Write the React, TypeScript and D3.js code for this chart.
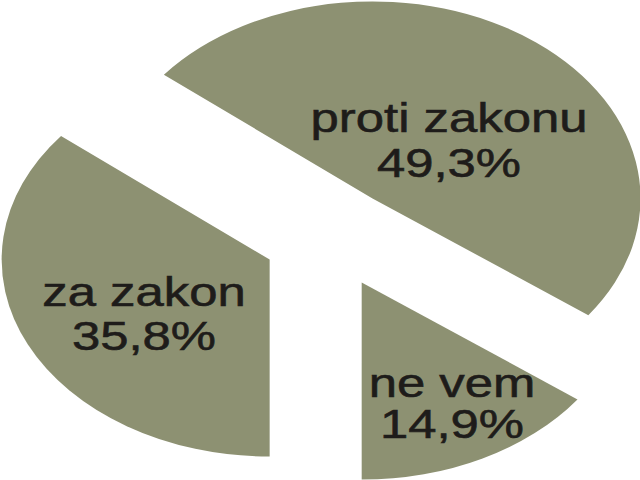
import { useEffect, useRef } from 'react';
import * as d3 from 'd3';

// answers to the survey question (percent)
const categories = ['proti zakonu', 'ne vem', 'za zakon'];
const shares = [49.3, 14.9, 35.8];
const shareLabels = ['49,3%', '14,9%', '35,8%'];

// where each two-line label sits (first baseline, gap to the second line)
const labelLayout: Record<string, { x: number; y: number; gap: number }> = {
  'proti zakonu': { x: 449, y: 132, gap: 45 },
  'ne vem': { x: 452, y: 397, gap: 41 },
  'za zakon': { x: 144, y: 306, gap: 44 },
};

const WIDTH = 640;
const HEIGHT = 480;
const FILL = '#8d9172';
const INK = '#1e1c1a';

export default function App() {
  const svgRef = useRef<SVGSVGElement>(null);

  useEffect(() => {
    if (!svgRef.current) return;
    const svg = d3.select(svgRef.current);
    svg.selectAll('*').remove();

    const cx = 331;
    const cy = 238;
    const radius = 268;
    const squash = 0.735; // pie is drawn as an ellipse
    const explode = 68;

    const data = categories.map((c, i) => ({ name: c, value: shares[i], label: shareLabels[i] }));
    const total = d3.sum(shares);

    // the split between "ne vem" and "za zakon" runs straight down
    const start = Math.PI - (2 * Math.PI * (shares[0] + shares[1])) / total;

    const pie = d3
      .pie<(typeof data)[number]>()
      .sort(null)
      .value(d => d.value)
      .startAngle(start)
      .endAngle(start + 2 * Math.PI);

    const arc = d3.arc<d3.PieArcDatum<(typeof data)[number]>>().innerRadius(0).outerRadius(radius);

    const g = svg.append('g').attr('transform', `translate(${cx},${cy}) scale(1,${squash})`);

    g.selectAll('path')
      .data(pie(data))
      .enter()
      .append('path')
      .attr('d', arc)
      .attr('fill', FILL)
      .attr('transform', d => {
        const mid = (d.startAngle + d.endAngle) / 2;
        return `translate(${explode * Math.sin(mid)},${-explode * Math.cos(mid)})`;
      });

    // labels, wide letters like the original
    const labels = svg
      .selectAll('g.lbl')
      .data(data)
      .enter()
      .append('g')
      .attr('class', 'lbl')
      .attr('transform', d => `translate(${labelLayout[d.name].x},${labelLayout[d.name].y}) scale(1.24,1)`)
      .attr('font-family', '"Liberation Sans", Arial, sans-serif')
      .attr('font-size', 41)
      .attr('fill', INK)
      .attr('stroke', INK)
      .attr('stroke-width', 0.6)
      .attr('text-anchor', 'middle');

    labels.append('text').text(d => d.name);
    labels
      .append('text')
      .attr('y', d => labelLayout[d.name].gap)
      .text(d => d.label);
  }, []);

  return (
    <svg
      ref={svgRef}
      width={WIDTH}
      height={HEIGHT}
      style={{ position: 'absolute', left: 0, top: 0, background: '#fff' }}
    />
  );
}
